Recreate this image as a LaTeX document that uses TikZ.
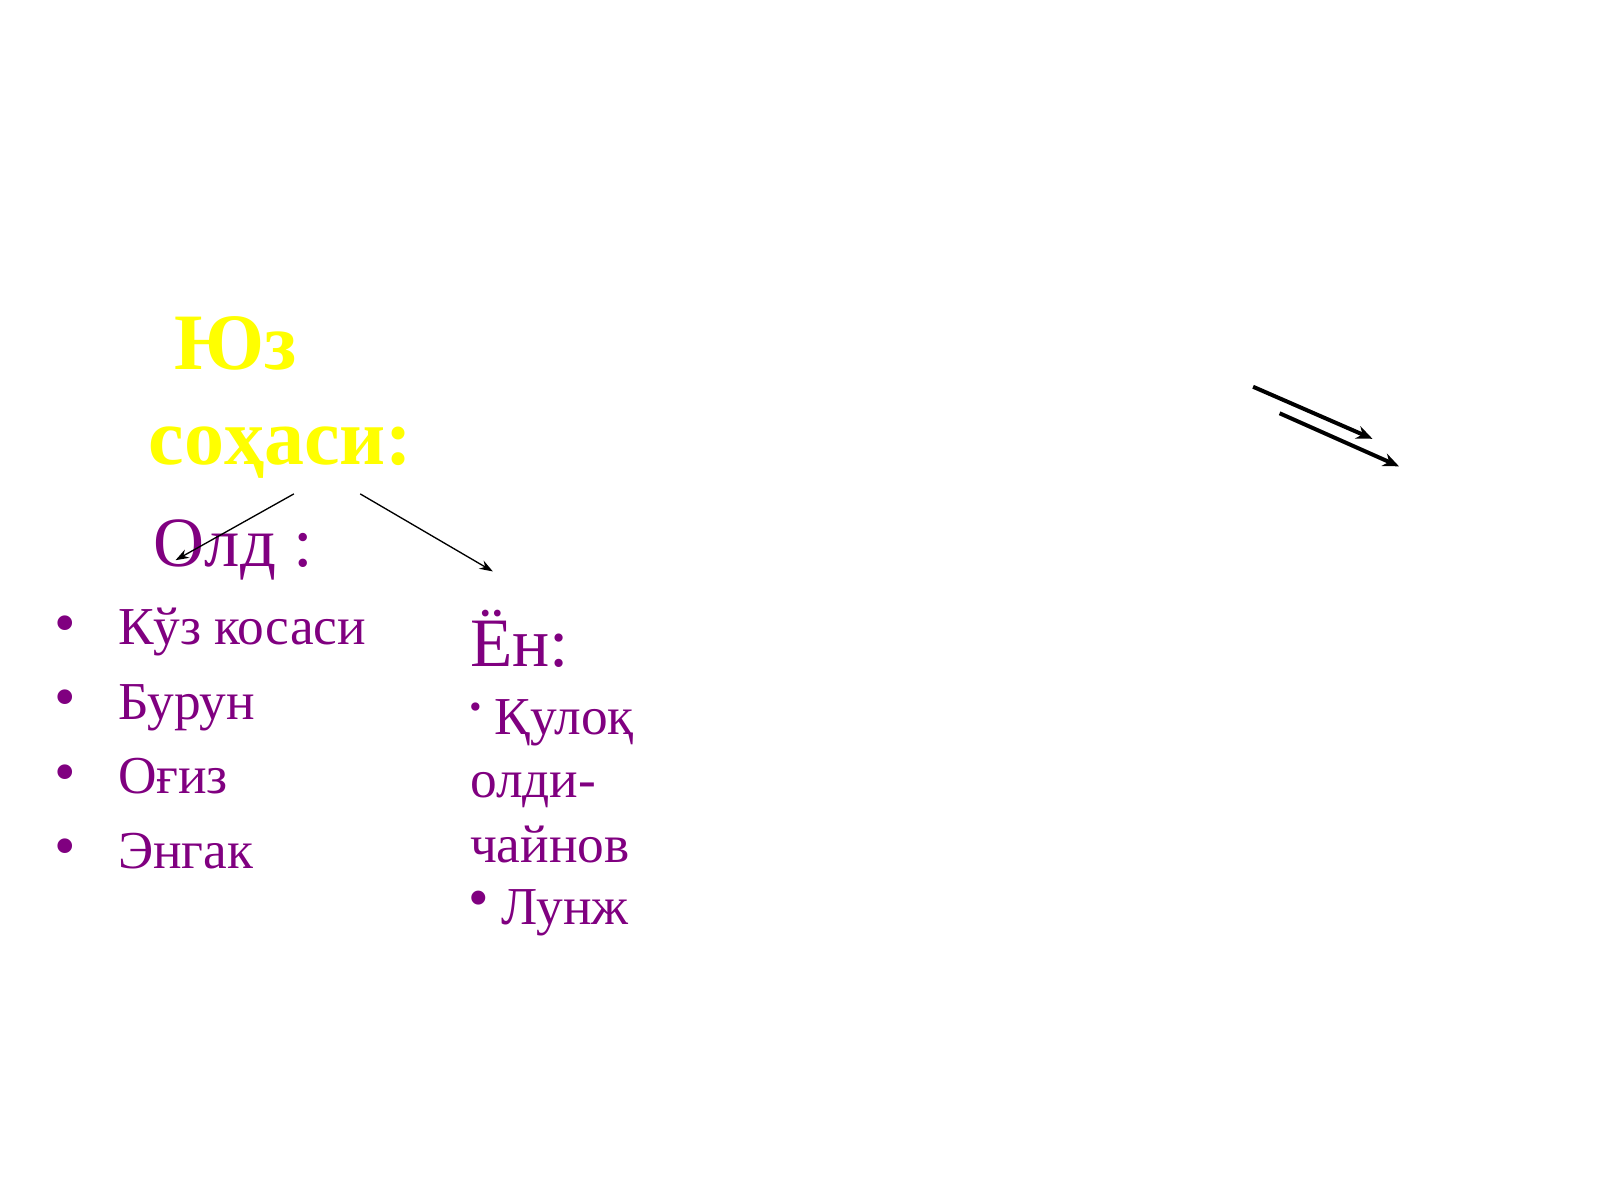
\documentclass[tikz,border=0pt]{standalone}
\usepackage{fontspec}
\setmainfont{Liberation Serif}
\usepackage{tikz}
\usetikzlibrary{positioning,arrows.meta}
\definecolor{slideyellow}{RGB}{255,255,0}
\definecolor{slidepurple}{RGB}{128,0,128}

\begin{document}
\begin{tikzpicture}[x=0.7653pt,y=-0.7653pt,->,>={Stealth[length=10pt,width=7pt]},line width=1pt]
\tikzstyle{every node}=[inner sep=0pt,anchor=base west,text=slidepurple]
\tikzstyle{title}=[text=slideyellow,font=\fontsize{60}{72}\selectfont\bfseries]
\tikzstyle{head}=[font=\fontsize{53}{64}\selectfont]
\tikzstyle{item}=[font=\fontsize{40}{48}\selectfont]
\tikzstyle{dot}=[anchor=center,font=\fontsize{46}{48}\selectfont]
\tikzstyle{thickarrow}=[line width=3pt,-{Stealth[length=12pt,width=10pt]}]

\useasboundingbox (0,0) rectangle (1568,1176);

\node[title] (Juz) at (170,362) {Юз};
\node[title] (Sohasi) at (145,455) {соҳаси:};
\node[head] (Old) at (150,555) {Олд :};
\node[item] (A1) at (115,632) {Кўз косаси};
\node[item] (A2) at (115,705) {Бурун};
\node[item] (A3) at (115,778) {Оғиз};
\node[item] (A4) at (115,851) {Энгак};
\node[dot] (a1) at (64,617) {•};
\node[dot] (a2) at (64,690) {•};
\node[dot] (a3) at (64,763) {•};
\node[dot] (a4) at (64,836) {•};
\node[head,font=\fontsize{52}{62}\selectfont] (En) at (460,653) {Ён:};
\node[item] (B1) at (484,720) {Қулоқ};
\node[item] (B2) at (460,782) {олди-};
\node[item] (B3) at (460,845) {чайнов};
\node[item] (B4) at (491,906) {Лунж};
\node[dot,font=\fontsize{26}{30}\selectfont] (b1) at (466,696) {•};
\node[dot,font=\fontsize{44}{48}\selectfont] (b4) at (469,886) {•};

\coordinate (s1) at (288,484);
\coordinate (e1) at (172,549);
\coordinate (s2) at (353,484);
\coordinate (e2) at (483,560);
\coordinate (s3) at (1228,379);
\coordinate (e3) at (1345,430);
\coordinate (s4) at (1254,405);
\coordinate (e4) at (1371,457);

\draw (s1) -- (e1);
\draw (s2) -- (e2);
\draw[thickarrow] (s3) -- (e3);
\draw[thickarrow] (s4) -- (e4);
\end{tikzpicture}
\end{document}
